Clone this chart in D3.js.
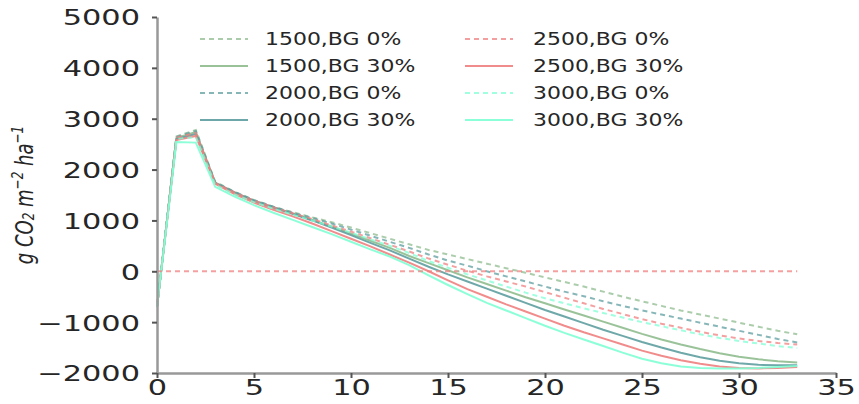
<!DOCTYPE html>
<html>
<head>
<meta charset="utf-8">
<script src="https://cdn.jsdelivr.net/npm/d3@7"></script>
<style>
  body { margin: 0; background: #fff; }
  svg text { font-family: "DejaVu Sans", sans-serif; fill: #262626; }
</style>
</head>
<body>
<script>
// years on the x axis
const years = [0, 1, 2, 3, 4, 5, 6, 7, 8, 9, 10, 11, 12, 13, 14, 15, 16, 17, 18, 19, 20, 21, 22, 23, 24, 25, 26, 27, 28, 29, 30, 31, 32, 33];

// g CO2 per series
const s1500bg0 = [-700, 2650, 2780, 1760, 1560, 1400, 1270, 1160, 1060, 965, 860, 750, 640, 530, 420, 330, 240, 150, 60, -30, -120, -210, -300, -400, -500, -590, -680, -770, -850, -930, -1010, -1090, -1170, -1240];
const s1500bg30 = [-700, 2620, 2740, 1740, 1540, 1380, 1250, 1130, 1010, 880, 740, 600, 460, 300, 160, 20, -120, -250, -380, -510, -630, -750, -870, -990, -1110, -1230, -1340, -1440, -1530, -1610, -1680, -1730, -1770, -1795];
const s2000bg0 = [-700, 2640, 2760, 1750, 1560, 1400, 1270, 1150, 1050, 940, 820, 700, 580, 460, 330, 210, 110, 0, -100, -200, -300, -400, -490, -590, -680, -770, -850, -930, -1010, -1090, -1170, -1250, -1330, -1400];
const s2000bg30 = [-700, 2600, 2700, 1740, 1550, 1390, 1260, 1130, 1000, 860, 710, 560, 410, 250, 90, -60, -200, -340, -480, -620, -760, -890, -1020, -1150, -1270, -1390, -1500, -1600, -1690, -1760, -1810, -1840, -1850, -1850];
const s2500bg0 = [-700, 2630, 2720, 1740, 1550, 1390, 1260, 1140, 1030, 900, 780, 650, 520, 390, 250, 130, 10, -100, -200, -300, -410, -520, -630, -740, -840, -940, -1030, -1110, -1190, -1260, -1320, -1370, -1410, -1440];
const s2500bg30 = [-700, 2580, 2660, 1720, 1520, 1350, 1210, 1080, 940, 790, 640, 490, 330, 170, 0, -180, -350, -500, -650, -790, -930, -1070, -1200, -1320, -1440, -1560, -1660, -1750, -1820, -1870, -1900, -1910, -1900, -1880];
const s3000bg0 = [-700, 2600, 2640, 1700, 1510, 1360, 1230, 1110, 1000, 880, 760, 630, 500, 360, 200, 70, -60, -180, -300, -420, -530, -630, -730, -820, -910, -1000, -1080, -1160, -1240, -1310, -1370, -1420, -1470, -1510];
const s3000bg30 = [-700, 2540, 2530, 1660, 1470, 1300, 1150, 1010, 870, 730, 580, 430, 290, 120, -80, -270, -450, -620, -770, -920, -1070, -1210, -1340, -1470, -1600, -1720, -1810, -1870, -1900, -1910, -1910, -1900, -1880, -1860];

// zero reference line
const zeroLineX = [0, 33];
const zeroLineY = [0, 0];

const labels = ["1500,BG 0%", "1500,BG 30%", "2000,BG 0%", "2000,BG 30%", "2500,BG 0%", "2500,BG 30%", "3000,BG 0%", "3000,BG 30%"];
const xTicks = [0, 5, 10, 15, 20, 25, 30, 35];
const yTicks = [-2000, -1000, 0, 1000, 2000, 3000, 4000, 5000];

const green = "#8fbc8f", blue = "#5f9ea0", red = "#f08080", cyan = "#7fffd4";
const series = [
  { label: labels[0], values: s1500bg0, color: green, dash: "5,4" },
  { label: labels[1], values: s1500bg30, color: green, dash: null },
  { label: labels[2], values: s2000bg0, color: blue, dash: "5,4" },
  { label: labels[3], values: s2000bg30, color: blue, dash: null },
  { label: labels[4], values: s2500bg0, color: red, dash: "5,4" },
  { label: labels[5], values: s2500bg30, color: red, dash: null },
  { label: labels[6], values: s3000bg0, color: cyan, dash: "5,4" },
  { label: labels[7], values: s3000bg30, color: cyan, dash: null }
];

const width = 859;
const height = 404;
const sx = 1.38; // picture is stretched sideways

const svg = d3.select("body").append("svg")
  .attr("width", width)
  .attr("height", height);

const x = d3.scaleLinear().domain([0, 35]).range([157, 836]);
const y = d3.scaleLinear().domain([-2000, 5000]).range([373, 17]);

const fmt = (d) => (d < 0 ? "\u2212" + Math.abs(d) : "" + d);

// lines
const line = d3.line()
  .x((d, i) => x(years[i]))
  .y((d) => y(d));

series.forEach((s) => {
  svg.append("path")
    .datum(s.values)
    .attr("d", line)
    .attr("fill", "none")
    .attr("stroke", s.color)
    .attr("stroke-width", 2)
    .attr("stroke-dasharray", s.dash)
    .attr("opacity", s.dash ? 0.75 : 0.9);
});

svg.append("path")
  .datum(zeroLineY)
  .attr("d", d3.line().x((d, i) => x(zeroLineX[i])).y((d) => y(d)))
  .attr("fill", "none")
  .attr("stroke", red)
  .attr("stroke-width", 2)
  .attr("stroke-dasharray", "5,4")
  .attr("opacity", 0.75);

// axes
const yAxis = svg.append("g")
  .attr("transform", `translate(${x(0)},0)`)
  .call(d3.axisLeft(y).tickValues(yTicks).tickFormat(fmt).tickSize(5).tickSizeOuter(0));
const xAxis = svg.append("g")
  .attr("transform", `translate(0,${y(-2000)})`)
  .call(d3.axisBottom(x).tickValues(xTicks).tickFormat(fmt).tickSize(5).tickSizeOuter(0));

[yAxis, xAxis].forEach((ax) => {
  ax.select(".domain").attr("stroke", "#999").attr("stroke-width", 2.5);
  ax.selectAll(".tick line").attr("stroke", "#555").attr("stroke-width", 2);
  ax.selectAll(".tick text")
    .attr("fill", "#222")
    .style("font-family", "DejaVu Sans")
    .style("font-size", "22px");
});
yAxis.selectAll(".tick text")
  .attr("x", -17 / sx)
  .attr("dy", "0.36em")
  .attr("transform", `scale(${sx},1)`);
xAxis.selectAll(".tick text")
  .attr("y", 6)
  .attr("dy", "0.71em")
  .attr("transform", `scale(${sx},1)`);

// y label
const ylab = svg.append("g")
  .attr("transform", `translate(24,195) scale(${sx},1) rotate(-90)`)
  .append("text")
  .attr("text-anchor", "middle")
  .attr("dominant-baseline", "central")
  .style("font-size", "18px")
  .style("font-style", "italic");
ylab.append("tspan").text("g CO");
ylab.append("tspan").attr("baseline-shift", "-25%").style("font-size", "12px").text("2");
ylab.append("tspan").text(" m");
ylab.append("tspan").attr("baseline-shift", "40%").style("font-size", "12px").text("\u22122");
ylab.append("tspan").text(" ha");
ylab.append("tspan").attr("baseline-shift", "40%").style("font-size", "12px").text("\u22121");

// legend
const legendCols = [{ lx: 200, tx: 265 }, { lx: 465, tx: 533 }];
series.forEach((s, i) => {
  const col = legendCols[Math.floor(i / 4)];
  const ry = 39 + (i % 4) * 27;
  svg.append("line")
    .attr("x1", col.lx)
    .attr("x2", col.lx + 48)
    .attr("y1", ry)
    .attr("y2", ry)
    .attr("stroke", s.color)
    .attr("stroke-width", 2)
    .attr("stroke-dasharray", s.dash)
    .attr("opacity", s.dash ? 0.75 : 0.9);
  svg.append("g")
    .attr("transform", `translate(${col.tx},${ry}) scale(1.22,1)`)
    .append("text")
    .attr("dominant-baseline", "central")
    .style("font-size", "18px")
    .text(s.label);
});
</script>
</body>
</html>
